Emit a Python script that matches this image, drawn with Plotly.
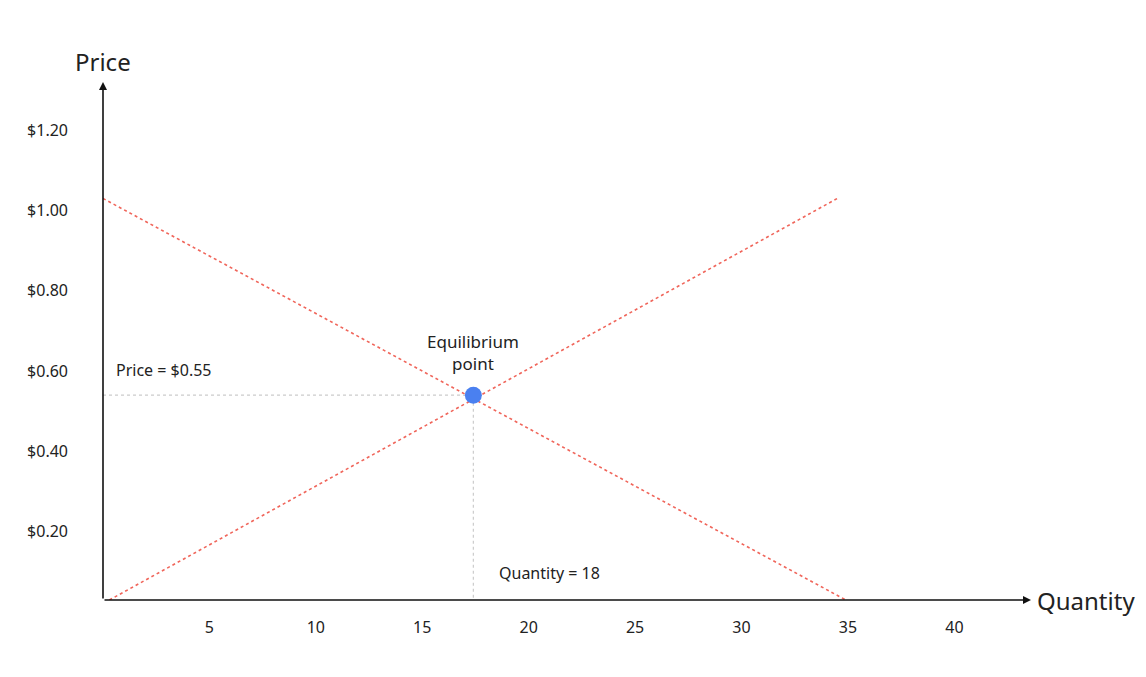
import plotly.graph_objects as go

# demand / supply endpoints
demand_q = [0, 34.9]
demand_p = [1.03, 0.03]
supply_q = [0.3, 34.5]
supply_p = [0.03, 1.03]
eq_q = 17.4
eq_p = 0.54
x_ticks = [5, 10, 15, 20, 25, 30, 35, 40]
y_ticks = [0.2, 0.4, 0.6, 0.8, 1.0, 1.2]
y_labels = ["$0.20", "$0.40", "$0.60", "$0.80", "$1.00", "$1.20"]

red = "#f0655a"
font = "Noto Sans"

fig = go.Figure()
fig.add_trace(go.Scatter(x=demand_q, y=demand_p, mode="lines",
                         line=dict(color=red, width=1.6, dash="dot")))
fig.add_trace(go.Scatter(x=supply_q, y=supply_p, mode="lines",
                         line=dict(color=red, width=1.6, dash="dot")))
fig.add_trace(go.Scatter(x=[0, eq_q, eq_q], y=[eq_p, eq_p, 0.03], mode="lines",
                         line=dict(color="#cccccc", width=1.2, dash="dot")))
fig.add_trace(go.Scatter(x=[eq_q], y=[eq_p], mode="markers",
                         marker=dict(color="#4a80f0", size=17)))

# axis arrows
fig.add_annotation(x=43.6, y=0.03, ax=0, ay=0.03, xref="x", yref="y", axref="x", ayref="y",
                   showarrow=True, arrowhead=2, arrowwidth=1.6, arrowsize=1, arrowcolor="#111", text="")
fig.add_annotation(x=0, y=1.32, ax=0, ay=0.03, xref="x", yref="y", axref="x", ayref="y",
                   showarrow=True, arrowhead=2, arrowwidth=1.6, arrowsize=1, arrowcolor="#111", text="")

fig.add_annotation(x=0, y=1.32, xref="x", yref="y", text="Price", showarrow=False,
                   yanchor="bottom", yshift=2, font=dict(size=24, color="#222"))
fig.add_annotation(x=43.6, y=0.03, xref="x", yref="y", text="Quantity", showarrow=False,
                   xanchor="left", xshift=4, font=dict(size=24, color="#222"))
fig.add_annotation(x=eq_q, y=eq_p, xref="x", yref="y", text="Equilibrium<br>point", showarrow=False,
                   yanchor="bottom", yshift=18, font=dict(size=17, color="#222"))
fig.add_annotation(x=0.5, y=eq_p, xref="x", yref="y", text="Price = $0.55", showarrow=False,
                   xanchor="left", yanchor="bottom", yshift=12, font=dict(size=16, color="#222"))
fig.add_annotation(x=18.5, y=0.03, xref="x", yref="y", text="Quantity = 18", showarrow=False,
                   xanchor="left", yanchor="bottom", yshift=14, font=dict(size=16, color="#222"))

fig.update_layout(
    width=1146, height=677, showlegend=False,
    plot_bgcolor="white", paper_bgcolor="white",
    margin=dict(l=95, r=123, t=74, b=85),
    font=dict(family=font, size=16, color="#222"),
    xaxis=dict(range=[0, 43.6], tickvals=x_ticks, showgrid=False, zeroline=False,
               showline=False, ticks="", ticklabelstandoff=16),
    yaxis=dict(range=[0.03, 1.32], tickvals=y_ticks, ticktext=y_labels, showgrid=False,
               zeroline=False, showline=False, ticks="", ticklabelstandoff=34),
)
fig.write_html("out.html")
